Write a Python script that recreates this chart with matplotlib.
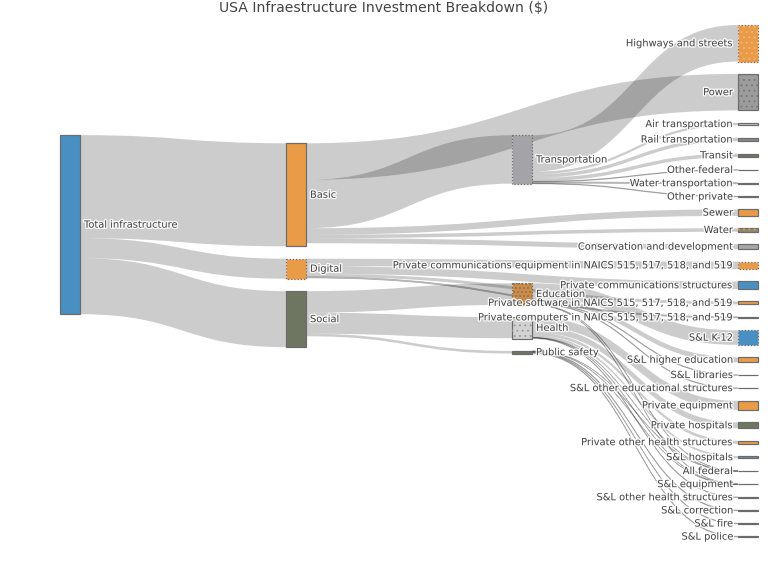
import numpy as np
import matplotlib.pyplot as plt
import matplotlib.patheffects as pe
from matplotlib.path import Path
from matplotlib.patches import PathPatch, Rectangle

# nodes, in the order they are stacked inside each column
nodes = [
    "Total infrastructure",
    "Basic", "Digital", "Social",
    "Transportation", "Education", "Health", "Public safety",
    "Highways and streets", "Power", "Air transportation", "Rail transportation",
    "Transit", "Other federal", "Water transportation", "Other private",
    "Sewer", "Water", "Conservation and development",
    "Private communications equipment in NAICS 515, 517, 518, and 519",
    "Private communications structures",
    "Private software in NAICS 515, 517, 518, and 519",
    "Private computers in NAICS 515, 517, 518, and 519",
    "S&L K-12", "S&L higher education", "S&L libraries",
    "S&L other educational structures", "Private equipment", "Private hospitals",
    "Private other health structures", "S&L hospitals", "All federal",
    "S&L equipment", "S&L other health structures", "S&L correction",
    "S&L fire", "S&L police",
]

# flows (estimated, $)
sources = (
    ["Total infrastructure"] * 3
    + ["Basic"] * 5
    + ["Transportation"] * 7
    + ["Digital"] * 4
    + ["Social"] * 3
    + ["Education"] * 6
    + ["Health"] * 7
    + ["Public safety"] * 5
)
targets = [
    "Basic", "Digital", "Social",
    "Power", "Transportation", "Sewer", "Water", "Conservation and development",
    "Highways and streets", "Air transportation", "Rail transportation", "Transit",
    "Other federal", "Water transportation", "Other private",
    "Private communications equipment in NAICS 515, 517, 518, and 519",
    "Private communications structures",
    "Private software in NAICS 515, 517, 518, and 519",
    "Private computers in NAICS 515, 517, 518, and 519",
    "Education", "Health", "Public safety",
    "S&L K-12", "S&L higher education", "S&L libraries",
    "S&L other educational structures", "All federal", "S&L equipment",
    "Private equipment", "Private hospitals", "Private other health structures",
    "S&L hospitals", "S&L other health structures", "All federal", "S&L equipment",
    "S&L correction", "S&L fire", "S&L police", "All federal", "S&L equipment",
]
values = [
    103, 20, 56,
    36.5, 48.4, 6.5, 3.5, 5.0,
    36.5, 2.5, 3.5, 3.5, 0.7, 1.2, 0.7,
    7.5, 7.5, 3.0, 1.2,
    21.5, 21.0, 2.6,
    14.5, 5.0, 0.7, 0.7, 0.3, 0.3,
    9.0, 6.0, 3.0, 2.2, 0.7, 0.2, 0.2,
    0.8, 0.6, 0.8, 0.2, 0.2,
]

# node colours and fill patterns
node_colors = [
    "#4a8fc2",
    "#e99b48", "#e99b48", "#6e7662",
    "#a4a3a8", "#d08a45", "#d2d2d2", "#6e7662",
    "#e99b48", "#9c9c9c", "#c8c8c8", "#8a8a8a",
    "#6e7662", "#333333", "#6e7662", "#555555",
    "#e99b48", "#8a8a70", "#a8a8a8",
    "#e99b48", "#4a8fc2", "#e99b48", "#555555",
    "#4a8fc2", "#e99b48", "#888888",
    "#888888", "#e99b48", "#6e7662",
    "#e99b48", "#6a8fa8", "#333333",
    "#666666", "#666666", "#333333",
    "#666666", "#6e7662",
]
node_hatch = {
    "Highways and streets": ("...", "#f2b578"),
    "Power": ("...", "#777777"),
    "Education": ("....", "#6e7662"),
    "Health": ("...", "#9a9a9a"),
    "Water": ("...", "#e99b48"),
}
dotted_border = {"Digital", "Transportation", "Education", "Highways and streets",
                 "S&L K-12", "Private communications equipment in NAICS 515, 517, 518, and 519"}

X0, X1, Y0, Y1 = 60, 758, 25, 537
NODE_W = 20
PAD = 12.4
ITERATIONS = 50


def sankey_layout():
    n = len(nodes)
    idx = {name: i for i, name in enumerate(nodes)}
    links = [(idx[s], idx[t], v) for s, t, v in zip(sources, targets, values)]
    outs = [[] for _ in range(n)]
    ins = [[] for _ in range(n)]
    for k, (s, t, v) in enumerate(links):
        outs[s].append(k)
        ins[t].append(k)
    depth = [0] * n
    changed = True
    while changed:
        changed = False
        for s, t, v in links:
            if depth[t] < depth[s] + 1:
                depth[t] = depth[s] + 1
                changed = True
    maxd = max(depth)
    for i in range(n):
        if not outs[i]:
            depth[i] = maxd
    val = np.array([max(sum(links[k][2] for k in ins[i]), sum(links[k][2] for k in outs[i]))
                    for i in range(n)])
    columns = [[i for i in range(n) if depth[i] == c] for c in range(maxd + 1)]
    ky = min((Y1 - Y0 - (len(c) - 1) * PAD) / val[c].sum() for c in columns)
    h = val * ky
    y = np.zeros(n)
    xs = np.array([X0 + d * (X1 - X0 - NODE_W) / maxd for d in depth])

    def resolve():
        for col in columns:
            cur = Y0
            for i in col:
                y[i] = max(y[i], cur)
                cur = y[i] + h[i] + PAD
            over = cur - PAD - Y1
            if over > 0:
                y[col[-1]] -= over
                cur = y[col[-1]]
                for i in reversed(col[:-1]):
                    d = y[i] + h[i] + PAD - cur
                    if d > 0:
                        y[i] -= d
                    cur = y[i]

    def center(i):
        return y[i] + h[i] / 2

    resolve()
    alpha = 1.0
    for _ in range(ITERATIONS):
        alpha *= 0.99
        for col in reversed(columns):
            for i in col:
                if outs[i]:
                    w = sum(center(links[k][1]) * links[k][2] for k in outs[i])
                    tot = sum(links[k][2] for k in outs[i])
                    y[i] += (w / tot - center(i)) * alpha
        resolve()
        for col in columns:
            for i in col:
                if ins[i]:
                    w = sum(center(links[k][0]) * links[k][2] for k in ins[i])
                    tot = sum(links[k][2] for k in ins[i])
                    y[i] += (w / tot - center(i)) * alpha
        resolve()

    # link breadths
    ls = np.zeros(len(links))
    lt = np.zeros(len(links))
    for i in range(n):
        cur = y[i]
        for k in sorted(outs[i], key=lambda k: center(links[k][1])):
            ls[k] = cur
            cur += links[k][2] * ky
        cur = y[i]
        for k in sorted(ins[i], key=lambda k: center(links[k][0])):
            lt[k] = cur
            cur += links[k][2] * ky
    return links, xs, y, h, ky, ls, lt, depth, maxd


links, xs, ys, hs, ky, ls, lt, depth, maxd = sankey_layout()

plt.rcParams['hatch.linewidth'] = 0.7
fig = plt.figure(figsize=(8, 6), dpi=96)
ax = fig.add_axes([0, 0, 1, 1])
ax.set_xlim(0, 768)
ax.set_ylim(576, 0)
ax.axis('off')

for k, (s, t, v) in enumerate(links):
    w = v * ky
    xa = xs[s] + NODE_W
    xb = xs[t]
    xm = (xa + xb) / 2
    ya, yb = ls[k], lt[k]
    verts = [(xa, ya), (xm, ya), (xm, yb), (xb, yb), (xb, yb + w),
             (xm, yb + w), (xm, ya + w), (xa, ya + w), (xa, ya)]
    codes = [Path.MOVETO, Path.CURVE4, Path.CURVE4, Path.CURVE4, Path.LINETO,
             Path.CURVE4, Path.CURVE4, Path.CURVE4, Path.CLOSEPOLY]
    thin = w < 1.5
    ax.add_patch(PathPatch(Path(verts, codes), facecolor=(0, 0, 0, 0.2),
                           edgecolor=(0, 0, 0, 0.28) if thin else 'none',
                           lw=0.5 if thin else 0, zorder=1))

halo = [pe.withStroke(linewidth=2, foreground='white', alpha=0.9)]
for i, name in enumerate(nodes):
    ls_ = ':' if name in dotted_border else '-'
    ax.add_patch(Rectangle((xs[i], ys[i]), NODE_W, hs[i], facecolor=node_colors[i],
                           edgecolor='#6b6b6b', lw=0.9, linestyle=ls_, zorder=2))
    if name in node_hatch:
        hatch, hc = node_hatch[name]
        ax.add_patch(Rectangle((xs[i], ys[i]), NODE_W, hs[i], facecolor='none',
                               edgecolor=hc, lw=0, hatch=hatch, zorder=2.5))
    cy = ys[i] + hs[i] / 2
    if depth[i] == maxd:
        ax.text(xs[i] - 5, cy, name, ha='right', va='center', fontsize=7.4,
                color='#444444', path_effects=halo, zorder=3)
    else:
        ax.text(xs[i] + NODE_W + 4, cy, name, ha='left', va='center', fontsize=7.4,
                color='#444444', path_effects=halo, zorder=3)

fig.text(0.5, 0.986, "USA Infraestructure Investment Breakdown ($)", ha='center',
         va='center', fontsize=10.5, color='#444444')

fig.savefig("out.png", dpi=96)
plt.close(fig)
